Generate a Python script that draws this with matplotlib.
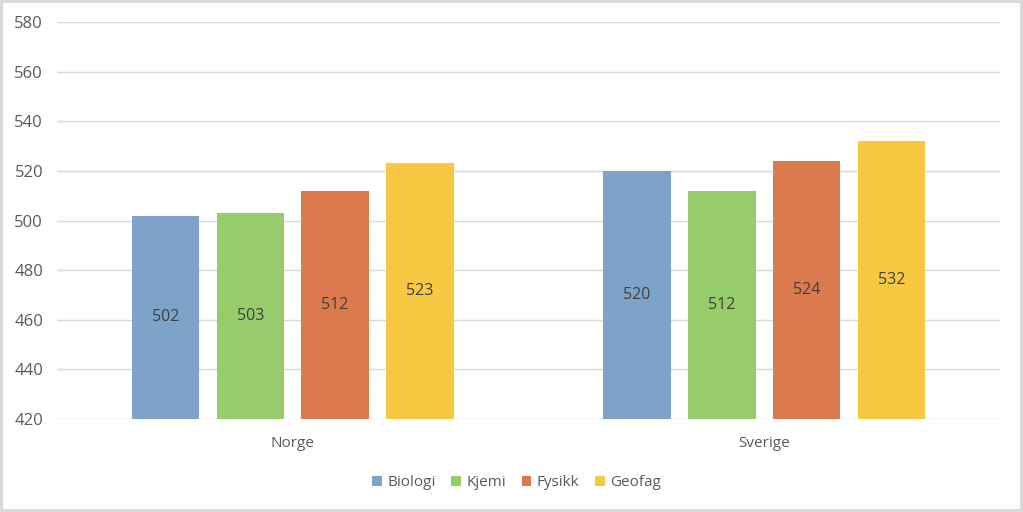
import matplotlib
matplotlib.use('Agg')
import matplotlib.pyplot as plt
import numpy as np

# data
countries = ['Norge', 'Sverige']
subjects = ['Biologi', 'Kjemi', 'Fysikk', 'Geofag']
biologi = [502, 520]
kjemi = [503, 512]
fysikk = [512, 524]
geofag = [523, 532]
y_ticks = [420, 440, 460, 480, 500, 520, 540, 560, 580]

series = [biologi, kjemi, fysikk, geofag]
colors = ['#7DA3C9', '#96CC69', '#DB7A4C', '#F9C842']

plt.rcParams['font.family'] = ['Open Sans', 'DejaVu Sans']

fig = plt.figure(figsize=(10.23, 5.12), dpi=100)
fig.patch.set_facecolor('white')
fig.patch.set_edgecolor('#D9D9D9')
fig.patch.set_linewidth(3)
ax = fig.add_axes([0.0557, 0.1816, 0.9218, 0.7754])

x = np.arange(len(countries))
pitch = 0.18
width = 0.143
for i, (vals, col) in enumerate(zip(series, colors)):
    offs = (i - 1.5) * pitch
    ax.bar(x + offs, np.array(vals) - y_ticks[0], width, bottom=y_ticks[0],
           color=col, label=subjects[i], zorder=3)
    for xi, v in zip(x + offs, vals):
        ax.text(xi, (y_ticks[0] + v) / 2, str(v), ha='center', va='center',
                fontsize=11.5, color='#404040', zorder=4)

ax.set_xlim(-0.5, 1.5)
ax.set_ylim(y_ticks[0], y_ticks[-1])
ax.set_yticks(y_ticks)
ax.set_xticks(x)
ax.set_xticklabels(countries)
ax.tick_params(axis='both', length=0, labelsize=11, labelcolor='#595959')
ax.tick_params(axis='y', pad=10, labelsize=12)
ax.tick_params(axis='x', pad=12)
ax.grid(axis='y', color='#D9D9D9', linewidth=1, zorder=0)
for s in ax.spines.values():
    s.set_visible(False)

leg = fig.legend(loc='center', bbox_to_anchor=(0.505, 0.057), ncol=4, frameon=False,
                 fontsize=11, handlelength=0.65, handleheight=0.65, handletextpad=0.35,
                 columnspacing=1.0)
for t in leg.get_texts():
    t.set_color('#595959')

fig.savefig('out.png', dpi=100)
